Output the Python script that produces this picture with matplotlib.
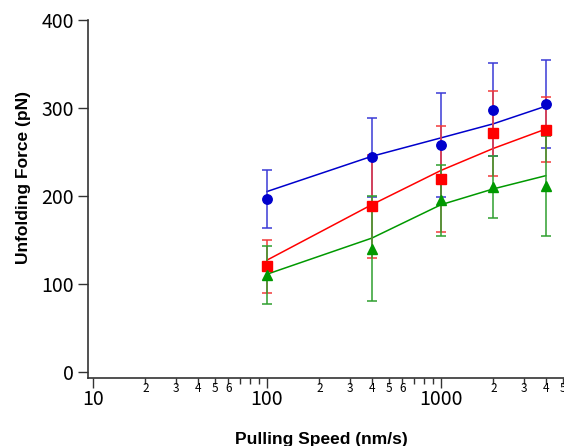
import matplotlib
matplotlib.use("Agg")
import matplotlib.pyplot as plt
from matplotlib.ticker import FixedLocator, FuncFormatter, NullLocator

# Pulling speeds (nm/s)
speeds = [100, 400, 1000, 2000, 4000]

# Measured unfolding forces (pN) and error bars
blue_force = [196, 244, 258, 298, 305]
blue_err = [33, 45, 59, 53, 50]
red_force = [120, 188, 219, 271, 275]
red_err = [30, 59, 60, 48, 37]
green_force = [110, 140, 195, 210, 211]
green_err = [33, 60, 40, 35, 57]

# Model curves evaluated at the same speeds
blue_fit = [205, 245, 266, 282, 302]
red_fit = [127, 190, 229, 254, 276]
green_fit = [111, 152, 190, 208, 223]

series = [
    (blue_force, blue_err, blue_fit, "#0000cc", "#3b3bd6", "o"),
    (red_force, red_err, red_fit, "#ff0000", "#f23a3a", "s"),
    (green_force, green_err, green_fit, "#009900", "#2f9f2f", "^"),
]

fig = plt.figure(figsize=(5.64, 4.46), dpi=100)
# axes runs past the right edge of the figure, like the original
ax = fig.add_axes([88 / 564, (446 - 378) / 446, 1 - 88 / 564, (378 - 20) / 446])

for force, err, fit, color, ecolor, marker in series:
    ax.plot(speeds, fit, color=color, lw=1.1, zorder=2)
    ax.errorbar(speeds, force, yerr=err, fmt=marker, color=color, ecolor=ecolor,
                mfc=color, mec=color, elinewidth=1.1, capsize=3.5, capthick=1.1,
                markersize=6.8, zorder=3)

ax.set_xscale("log")
ax.set_xlim(9.36, 5094)
ax.set_ylim(-7, 400)

for side in ["top", "right"]:
    ax.spines[side].set_visible(False)
for side in ["left", "bottom"]:
    ax.spines[side].set_color("#333333")
    ax.spines[side].set_linewidth(1.2)

tick_font = "Noto Sans CJK JP"

ax.set_yticks([0, 100, 200, 300, 400])
ax.yaxis.set_minor_locator(NullLocator())
ax.tick_params(axis="y", length=7, width=1, color="#333333", pad=3,
               labelsize=14, labelfontfamily=tick_font)

major_x = [10, 100, 1000]
minor_x = [m * d for d in (10, 100, 1000) for m in range(2, 10) if m * d < 5100]
ax.xaxis.set_major_locator(FixedLocator(major_x))
ax.xaxis.set_minor_locator(FixedLocator(minor_x))
ax.xaxis.set_major_formatter(FuncFormatter(lambda v, p: "%d" % v))


def minor_label(v, pos):
    lead = int(round(v / 10 ** int(len(str(int(round(v)))) - 1)))
    return str(lead) if lead <= 6 else ""


ax.xaxis.set_minor_formatter(FuncFormatter(minor_label))
ax.tick_params(axis="x", which="major", length=7, width=1, color="#333333",
               pad=1, labelsize=14, labelfontfamily=tick_font)
ax.tick_params(axis="x", which="minor", length=4, width=1, color="#333333",
               pad=-1, labelsize=8.5, labelfontfamily=tick_font)

ax.set_xlabel("Pulling Speed (nm/s)", fontsize=12.5, fontweight="bold",
              family="Liberation Sans")
ax.xaxis.set_label_coords(0.49, -0.15)
ax.set_ylabel("Unfolding Force (pN)", fontsize=12.5, fontweight="bold",
              family="Liberation Sans")
ax.yaxis.set_label_coords(-0.12, 0.56)

fig.savefig("out.png", dpi=100)
